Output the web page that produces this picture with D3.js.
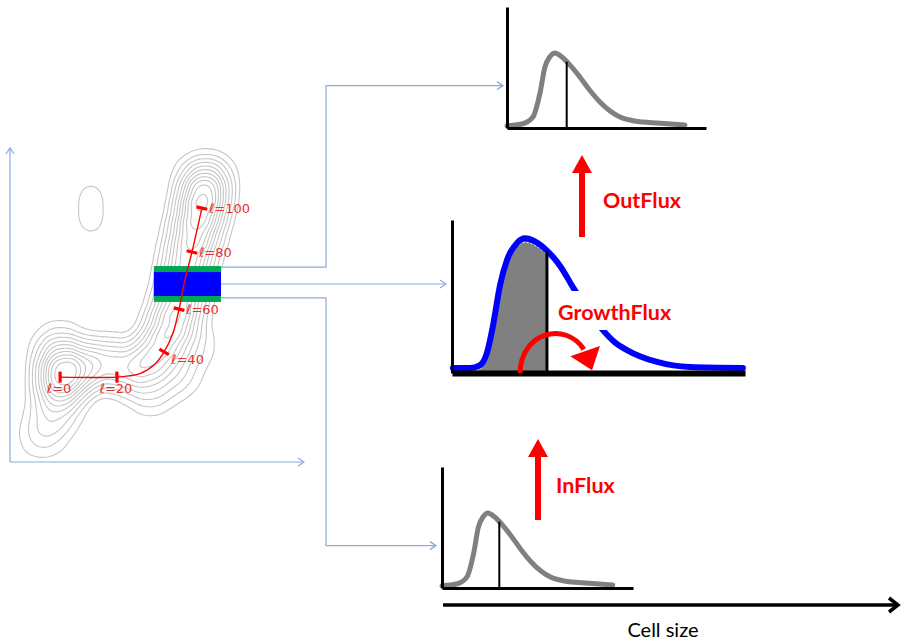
<!DOCTYPE html>
<html><head><meta charset="utf-8">
<script src="https://cdn.jsdelivr.net/npm/d3@7"></script>
<style>body{margin:0;background:#fff}svg{display:block}</style>
</head><body><svg id="c" width="902" height="642"></svg>
<script>
// ---------------- DATA ----------------
// size distribution (cell size %, density % of axis height) for the small charts
const outerSize    = [0, 8, 13, 16.6, 19, 21.6, 24, 27.6, 31.7, 36.7, 41.7, 46.7, 51.8, 56.8, 64, 77, 89.4];
const outerDensity = [1.8, 3.5, 9, 29, 50, 59, 62, 58.7, 52, 42, 31, 21.5, 14, 9, 5.8, 4, 2.5];
// middle (highlighted) distribution
const midSize    = [0.3, 6.1, 9.6, 11.9, 14, 16.4, 18.8, 22.2, 24.9, 28.3, 32.4, 36.9, 41.3, 46.4, 51.5, 55.6, 59.7, 70, 81.2, 99.3];
const midDensity = [3.3, 3.3, 5.2, 13, 31, 57.5, 74, 85, 88, 86, 80, 70, 56, 41, 28, 20, 15, 7.2, 3.9, 3.3];
const markerOuter = 30;
const markerMid = 32.4;
// trajectory ℓ through the 2-D landscape (data units 0..100)
const pathX = [17.1, 36.5, 40.6, 44.4, 49.5, 52.6, 55.6, 57.7, 59.7, 62.1, 65.5];
const pathY = [27.2, 27.2, 27.6, 28.3, 31.4, 35.3, 41.3, 49.0, 58.3, 67.3, 81.4];
const tickIndex = [0, 1, 5, 7, 9, 10];
const tickLabels = ["ℓ=0", "ℓ=20", "ℓ=40", "ℓ=60", "ℓ=80", "ℓ=100"];
// density landscape anchors (data units) used for the contour lines
const densX = [17.7, 17.1, 16.4, 13.7, 10.2, 25.6, 32.4,
               41.0, 47.8, 52.2, 55.3, 57.7, 59.4, 61.1, 63.1, 64.8, 66.2, 66.9,
               47.8, 57.3, 63.1, 27.6, 27.6];
const densY = [27.9, 35.9, 19.9, 11.9, 7.7, 30.1, 32.1,
               29.5, 32.1, 37.5, 43.9, 50.3, 58.3, 66.3, 73.7, 80.1, 86.2, 91.0,
               22.4, 27.9, 37.5, 86.2, 76.3];
const densW = [9, 3, 3, 1.2, 0.8, 3.5, 3,
               3.2, 3.6, 4, 4.4, 4.6, 4.6, 4.8, 5, 5.2, 5.8, 3,
               1.5, 1.4, 1.0, 0.5, 0.5];
const contourLevels = [0.04, 0.09, 0.15, 0.22, 0.3, 0.38, 0.47, 0.56, 0.66, 0.76, 0.87];
// selected slice of the trajectory (data units)
const sliceX = [49.1, 72.0];
const sliceY = [51.3, 62.8];
const texts = {out: "OutFlux", growth: "GrowthFlux", inflow: "InFlux", axis: "Cell size"};

// ---------------- DRAW ----------------
const svg = d3.select('#c');
const RED = '#ff0000', LINK = '#8eaadb', LRED = '#e8322e';
const defs = svg.append('defs');
defs.append('marker').attr('id','chev').attr('viewBox','0 0 8 10').attr('refX',7).attr('refY',5)
  .attr('markerUnits','userSpaceOnUse').attr('markerWidth',8).attr('markerHeight',10).attr('orient','auto')
  .append('path').attr('d','M1,1 L7,5 L1,9').attr('fill','none').attr('stroke',LINK).attr('stroke-width',1.3);

// contour frame
const xC = d3.scaleLinear().domain([0,100]).range([10,303]);
const yC = d3.scaleLinear().domain([0,100]).range([462,150]);

const pts = densX.map((x,i)=>({x:xC(x), y:yC(densY[i]), w:densW[i]}));
const dens = d3.contourDensity().x(d=>d.x).y(d=>d.y).weight(d=>d.w).size([330,480]).cellSize(2).bandwidth(14);
const probe = dens.thresholds(300)(pts);
const maxV = d3.max(probe, c=>c.value);
const cs = dens.thresholds(contourLevels.map(f=>f*maxV))(pts);
svg.append('g').selectAll('path').data(cs).join('path')
  .attr('d', d3.geoPath()).attr('fill','none').attr('stroke','#c6c6c6').attr('stroke-width',1.1);

svg.append('path').attr('d',`M${xC(0)},${yC(0)}V${yC(0)-314}`).attr('stroke',LINK).attr('stroke-width',1.2).attr('fill','none').attr('marker-end','url(#chev)');
svg.append('path').attr('d',`M${xC(0)},${yC(0)}H${xC(100)+1}`).attr('stroke',LINK).attr('stroke-width',1.2).attr('fill','none').attr('marker-end','url(#chev)');

// slice rectangle
const rx0 = xC(sliceX[0]), rx1 = xC(sliceX[1]), ry0 = yC(sliceY[1]), ry1 = yC(sliceY[0]);
svg.append('rect').attr('x',rx0).attr('y',ry0).attr('width',rx1-rx0).attr('height',ry1-ry0).attr('fill','#00a651');
svg.append('rect').attr('x',rx0).attr('y',ry0+6).attr('width',rx1-rx0).attr('height',ry1-ry0-12).attr('fill','#0000ff');

// trajectory
const pp = pathX.map((x,i)=>[xC(x), yC(pathY[i])]);
svg.append('path').attr('d', d3.line().curve(d3.curveCatmullRom.alpha(0.5))(pp))
  .attr('fill','none').attr('stroke',RED).attr('stroke-width',1.4);
tickIndex.forEach((ti,k)=>{
  const a = pp[Math.max(0,ti-1)], b = pp[Math.min(pp.length-1,ti+1)];
  let tx=b[0]-a[0], ty=b[1]-a[1]; const n=Math.hypot(tx,ty); tx/=n; ty/=n;
  const nx=-ty, ny=tx, c=pp[ti], L=5.5;
  svg.append('line').attr('x1',c[0]-nx*L).attr('y1',c[1]-ny*L).attr('x2',c[0]+nx*L).attr('y2',c[1]+ny*L)
    .attr('stroke',RED).attr('stroke-width',3.2);
  const t = svg.append('text').text(tickLabels[k]).attr('fill',LRED)
    .attr('font-family','DejaVu Sans').attr('font-size',13);
  if (k < 2) t.attr('x',c[0]-1).attr('y',c[1]+16).attr('text-anchor','middle');
  else t.attr('x',c[0]+7).attr('y',c[1]+ (k===2?12:5));
});

// ---------- distribution charts ----------
function drawAxes(x, y, wx, wy){
  const gx = svg.append('g').attr('transform',`translate(0,${y.range()[0]})`)
    .call(d3.axisBottom(x).tickValues([]).tickSizeOuter(0));
  gx.select('.domain').attr('stroke','#000').attr('stroke-width',wx);
  const gy = svg.append('g').attr('transform',`translate(${x.range()[0]},0)`)
    .call(d3.axisLeft(y).tickValues([]).tickSizeOuter(0));
  gy.select('.domain').attr('stroke','#000').attr('stroke-width',wy);
}
function interp(xs, ys, v){
  const i = d3.bisectLeft(xs, v); const t=(v-xs[i-1])/(xs[i]-xs[i-1]);
  return ys[i-1] + t*(ys[i]-ys[i-1]);
}
function smallChart(xr, yr){
  const x = d3.scaleLinear().domain([0,100]).range(xr);
  const y = d3.scaleLinear().domain([0,100]).range(yr);
  const line = d3.line().curve(d3.curveMonotoneX).x((d,i)=>x(outerSize[i])).y(d=>y(d));
  svg.append('path').attr('d', line(outerDensity)).attr('fill','none').attr('stroke','#808080')
    .attr('stroke-width',5).attr('stroke-linecap','round').attr('stroke-linejoin','round');
  svg.append('line').attr('x1',x(markerOuter)).attr('x2',x(markerOuter)).attr('y1',y(0))
    .attr('y2',y(interp(outerSize,outerDensity,markerOuter))).attr('stroke','#000').attr('stroke-width',2);
  drawAxes(x, y, 3, 3);
  return {x,y};
}
const topChart = smallChart([507,706],[128,7]);
const botChart = smallChart([442,633],[588,467]);

// middle chart
const xM = d3.scaleLinear().domain([0,100]).range([452,745]);
const yM = d3.scaleLinear().domain([0,100]).range([373,220]);
defs.append('clipPath').attr('id','left').append('rect')
  .attr('x',xM(0)).attr('y',yM(100)).attr('width',xM(markerMid)-xM(0)).attr('height',yM(0)-yM(100));
const midArea = d3.area().curve(d3.curveMonotoneX).x((d,i)=>xM(midSize[i])).y0(yM(0)).y1(d=>yM(d));
svg.append('path').attr('d', midArea(midDensity)).attr('fill','#808080').attr('clip-path','url(#left)');
const midLine = d3.line().curve(d3.curveMonotoneX).x((d,i)=>xM(midSize[i])).y(d=>yM(d));
svg.append('path').attr('d', midLine(midDensity.map(v=>v-2.6))).attr('fill','none').attr('stroke','#fff')
  .attr('stroke-width',1).attr('stroke-dasharray','2,2').attr('clip-path','url(#left)');
svg.append('path').attr('d', midLine(midDensity)).attr('fill','none').attr('stroke','#0000ff')
  .attr('stroke-width',6).attr('stroke-linecap','round').attr('stroke-linejoin','round');
svg.append('line').attr('x1',xM(markerMid)).attr('x2',xM(markerMid)).attr('y1',yM(0))
  .attr('y2',yM(interp(midSize,midDensity,markerMid))).attr('stroke','#000').attr('stroke-width',3);
drawAxes(xM, yM, 6, 3);

// GrowthFlux label with white box
svg.append('rect').attr('x',xM(35)).attr('y',291).attr('width',128).attr('height',39).attr('fill','#fff');
const labelFont = 'Lato, "Open Sans", sans-serif';
svg.append('text').attr('x',558).attr('y',320).text(texts.growth).attr('fill',RED)
  .attr('font-family',labelFont).attr('font-weight','bold').attr('font-size',21.5);

// curved growth arrow
const P = (a,b)=>[xM(a), yM(b)];
const s=P(23.2,0), c1=P(23.6,27), c2=P(38.6,34), e=P(45,15.5);
svg.append('path').attr('d',`M${s}C${c1} ${c2} ${e}`).attr('fill','none').attr('stroke',RED).attr('stroke-width',5);
svg.append('polygon').attr('points',[P(40.4,11),P(50.5,17.6),P(47.8,1.8)].join(' ')).attr('fill',RED);

// vertical flux arrows
function upArrow(x, yBottom, yTip){
  svg.append('line').attr('x1',x).attr('x2',x).attr('y1',yBottom).attr('y2',yTip+16).attr('stroke',RED).attr('stroke-width',6);
  svg.append('polygon').attr('points',`${x-10},${yTip+18} ${x+10},${yTip+18} ${x},${yTip}`).attr('fill',RED);
}
upArrow(582, 237, 155);
upArrow(538, 520, 439);
svg.append('text').attr('x',603).attr('y',208).text(texts.out).attr('fill',RED)
  .attr('font-family',labelFont).attr('font-weight','bold').attr('font-size',21.5);
svg.append('text').attr('x',556).attr('y',493).text(texts.inflow).attr('fill',RED)
  .attr('font-family',labelFont).attr('font-weight','bold').attr('font-size',21.5);

// links from slice to charts
const linkStyle = p=>p.attr('fill','none').attr('stroke',LINK).attr('stroke-width',1.2).attr('marker-end','url(#chev)');
svg.append('path').attr('d',`M${rx1},${ry0+1}H326V${topChart.y(35)}H${topChart.x(0)-4}`).call(linkStyle);
svg.append('path').attr('d',`M${rx1},${(ry0+ry1)/2}H${xM(0)-6}`).call(linkStyle);
svg.append('path').attr('d',`M${rx1},${ry1-4}H326V${botChart.y(35)}H${botChart.x(0)-6}`).call(linkStyle);

// cell size axis
svg.append('line').attr('x1',443).attr('x2',897).attr('y1',605).attr('y2',605).attr('stroke','#000').attr('stroke-width',3.5);
svg.append('path').attr('d','M889,598 L898,605 L889,612').attr('fill','none').attr('stroke','#000').attr('stroke-width',3.5);
svg.append('text').attr('x',663).attr('y',637).attr('text-anchor','middle').text(texts.axis)
  .attr('font-family',labelFont).attr('font-size',20).attr('fill','#000');
</script></body></html>
